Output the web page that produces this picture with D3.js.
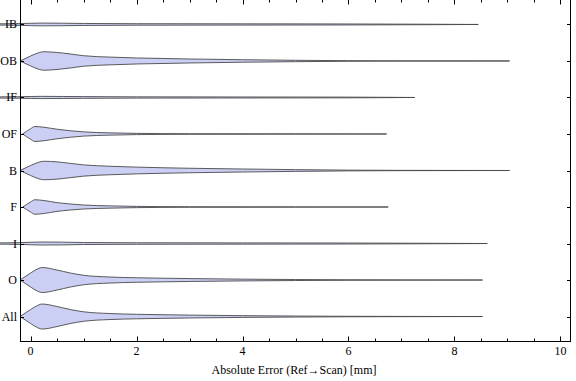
<!DOCTYPE html>
<html><head><meta charset="utf-8">
<script src="https://cdn.jsdelivr.net/npm/d3@7"></script>
<style>body{margin:0;background:#fff}svg{display:block}text{font-family:"Liberation Serif","Times New Roman",serif;font-size:12px;fill:#000}</style>
</head><body>
<script>
// categories top to bottom
const categories = ["IB","OB","IF","OF","B","F","I","O","All"];
// maximum value of each distribution (end of the violin tail)
const maxValues = [8.45, 9.04, 7.25, 6.72, 9.04, 6.75, 8.62, 8.53, 8.53];
// estimated half-width profiles [error, relative density]
const densIB  = [[-0.6,0.05],[-0.2,0.07],[0.2,0.11],[0.6,0.1],[1.0,0.08],[2,0.06],[4,0.05],[6,0.04],[7.5,0.02]];
const densOB  = [[-0.2,0],[0,0.4],[0.1,0.58],[0.25,0.74],[0.5,0.68],[0.75,0.56],[1,0.42],[1.5,0.31],[2,0.24],[2.5,0.2],[3,0.16],[4,0.1],[5,0.055],[6,0.025],[7,0.01]];
const densIF  = [[-0.6,0.05],[-0.2,0.06],[0.2,0.09],[0.6,0.08],[1.0,0.07],[2,0.05],[4,0.04],[6,0.03]];
const densOF  = [[-0.15,0],[0,0.42],[0.08,0.6],[0.25,0.54],[0.5,0.38],[0.75,0.26],[1,0.17],[1.5,0.09],[2,0.05],[2.5,0.03],[3,0.02],[5,0.01]];
const densB   = [[-0.2,0],[0,0.4],[0.1,0.58],[0.25,0.74],[0.5,0.69],[0.75,0.57],[1,0.45],[1.5,0.34],[2,0.27],[2.5,0.22],[3,0.18],[4,0.12],[5,0.07],[6,0.03],[7,0.012]];
const densF   = [[-0.15,0],[0,0.4],[0.08,0.58],[0.25,0.52],[0.5,0.35],[0.75,0.24],[1,0.16],[1.5,0.09],[2,0.05],[2.5,0.03],[3,0.02],[5,0.01]];
const densI   = [[-0.6,0.05],[-0.2,0.07],[0.2,0.12],[0.6,0.11],[1.0,0.08],[2,0.06],[4,0.05],[6,0.04],[7.5,0.02]];
const densO   = [[-0.2,0],[0,0.56],[0.1,0.82],[0.22,1.0],[0.5,0.8],[0.75,0.56],[1,0.38],[1.5,0.24],[2,0.18],[2.5,0.145],[3,0.115],[4,0.07],[5,0.04],[6,0.02],[7,0.01]];
const densAll = [[-0.2,0],[0,0.56],[0.1,0.82],[0.22,1.0],[0.5,0.8],[0.75,0.56],[1,0.38],[1.5,0.24],[2,0.18],[2.5,0.145],[3,0.115],[4,0.07],[5,0.04],[6,0.02],[7,0.01]];
const densities = [densIB, densOB, densIF, densOF, densB, densF, densI, densO, densAll];
// x-axis ticks
const majorTicks = [0,2,4,6,8,10];
const minorTicks = d3.range(0, 10.01, 0.5).filter(v => v % 2 !== 0);
const xLabel = "Absolute Error (Ref\u2192Scan) [mm]";

const W = 576, H = 381;
const L = 20, R = 571, T = 0, B = 341;
const svg = d3.select("body").append("svg").attr("width", W).attr("height", H);

const x = d3.scaleLinear().domain([-0.2, 10.2]).range([L, R]);
const y = d3.scalePoint().domain(categories).range([T, B]).padding(0.67);
const hw = d3.scaleLinear().domain([0, 1]).range([0, 12.5]);

// violins
categories.forEach((c, i) => {
  const pts = densities[i].concat([[maxValues[i], 0]]);
  const cy = y(c);
  const area = d3.area()
    .x(d => x(d[0]))
    .y0(d => cy - hw(d[1]))
    .y1(d => cy + hw(d[1]))
    .curve(d3.curveMonotoneX);
  svg.append("path").attr("d", area(pts))
    .attr("fill", "#cbcff3").attr("stroke", "#4a4a4a").attr("stroke-width", 0.9)
    .attr("stroke-linejoin", "round");
});

// frame
const frame = svg.append("g").attr("stroke", "#000").attr("stroke-width", 1).attr("fill", "none");
frame.append("line").attr("x1", L + 0.5).attr("x2", L + 0.5).attr("y1", T).attr("y2", B + 0.5);
frame.append("line").attr("x1", R - 0.5).attr("x2", R - 0.5).attr("y1", T).attr("y2", B + 0.5);
frame.append("line").attr("x1", L).attr("x2", R).attr("y1", B + 0.5).attr("y2", B + 0.5);

// x ticks (bottom and top, inward)
const tickG = svg.append("g").attr("stroke", "#000").attr("stroke-width", 1);
majorTicks.forEach(v => {
  const px = Math.round(x(v)) + 0.5;
  tickG.append("line").attr("x1", px).attr("x2", px).attr("y1", B).attr("y2", B - 4.5);
  tickG.append("line").attr("x1", px).attr("x2", px).attr("y1", T).attr("y2", T + 4.5);
});
minorTicks.forEach(v => {
  const px = Math.round(x(v)) + 0.5;
  tickG.append("line").attr("x1", px).attr("x2", px).attr("y1", B).attr("y2", B - 2.5);
  tickG.append("line").attr("x1", px).attr("x2", px).attr("y1", T).attr("y2", T + 2.5);
});
// y ticks (left and right, inward)
categories.forEach(c => {
  const py = Math.round(y(c)) + 0.5;
  tickG.append("line").attr("x1", L).attr("x2", L + 4).attr("y1", py).attr("y2", py);
  tickG.append("line").attr("x1", R).attr("x2", R - 4).attr("y1", py).attr("y2", py);
});

// tick labels
svg.append("g").selectAll("text").data(majorTicks).join("text")
  .attr("x", d => x(d)).attr("y", 355).attr("text-anchor", "middle").text(d => d);
svg.append("g").selectAll("text").data(categories).join("text")
  .attr("x", 17).attr("y", d => y(d) + 4).attr("text-anchor", "end").text(d => d);

svg.append("text").attr("x", 294).attr("y", 374).attr("text-anchor", "middle").text(xLabel);
</script>
</body></html>
